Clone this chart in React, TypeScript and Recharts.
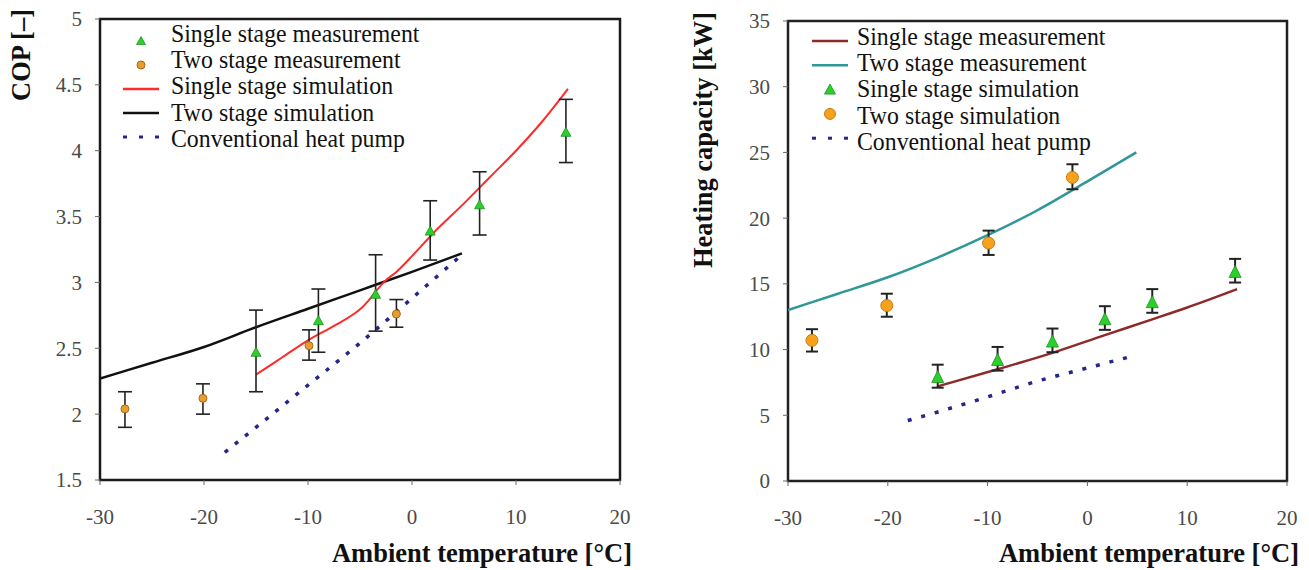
import { ComposedChart, ErrorBar, Line, ReferenceArea, Scatter, XAxis, YAxis } from "recharts";

const FONT = '"Liberation Serif", "Times New Roman", Times, serif';

// ambient temperatures of the measured points (both charts)
const singleTemps = [-15, -9, -3.5, 1.75, 6.5, 14.8];
const twoTemps = [-27.6, -20.1, -9.9, -1.5];

const tempTicks = [-30, -20, -10, 0, 10, 20];
const copTicks = [1.5, 2, 2.5, 3, 3.5, 4, 4.5, 5];
const capTicks = [0, 5, 10, 15, 20, 25, 30, 35];

// COP chart
const copSingleMeas = [2.47, 2.71, 2.91, 3.39, 3.59, 4.14];
const copSingleLow = [2.17, 2.47, 2.63, 3.17, 3.36, 3.91];
const copSingleHigh = [2.79, 2.95, 3.21, 3.62, 3.84, 4.39];
const copTwoMeas = [2.04, 2.12, 2.52, 2.76];
const copTwoLow = [1.9, 2.0, 2.41, 2.66];
const copTwoHigh = [2.17, 2.23, 2.64, 2.87];

const copSingleSimT = [-15, -12.5, -10, -7.5, -5.6, -4.8, -4.2, -3.5, -2.6, -1.5, 0, 2, 5, 7.5, 10, 12.5, 15];
const copSingleSim = [2.3, 2.43, 2.56, 2.67, 2.76, 2.81, 2.86, 2.93, 3.01, 3.08, 3.2, 3.37, 3.6, 3.8, 4.0, 4.22, 4.47];
const copTwoSimT = [-30, -25, -20, -15, -10, -5, 0, 4.8];
const copTwoSim = [2.27, 2.39, 2.51, 2.66, 2.8, 2.94, 3.08, 3.22];
const copConvT = [-18, -15, -10, -5, 0, 4.5];
const copConv = [1.71, 1.9, 2.22, 2.54, 2.88, 3.19];

// heating capacity chart
const capSingleSim = [7.9, 9.2, 10.6, 12.3, 13.6, 15.9];
const capSingleLow = [7.1, 8.4, 9.8, 11.5, 12.8, 15.1];
const capSingleHigh = [8.85, 10.2, 11.6, 13.3, 14.6, 16.9];
const capTwoSim = [10.7, 13.35, 18.1, 23.1];
const capTwoLow = [9.85, 12.5, 17.2, 22.2];
const capTwoHigh = [11.55, 14.25, 19.05, 24.1];

const capSingleMeasT = [-15, -9, -3.5, 1.75, 6.5, 10, 15];
const capSingleMeas = [7.2, 8.5, 9.75, 11.1, 12.3, 13.2, 14.6];
const capTwoMeasT = [-30, -25, -20, -15, -10, -5, 0, 4.9];
const capTwoMeas = [13.0, 14.25, 15.5, 17.0, 18.7, 20.6, 22.8, 25.0];
const capConvT = [-18, -15, -10, -5, 0, 4.5];
const capConv = [4.6, 5.25, 6.4, 7.6, 8.6, 9.5];

const GREEN = "#2BD12B";
const GREEN_EDGE = "#1E8E1E";
const ORANGE = "#E89D2C";
const ORANGE_EDGE = "#A8681A";
const RED = "#FF2B2B";
const BLACK = "#111";
const NAVY = "#25258A";
const DARKRED = "#8E2A2A";
const TEAL = "#2F9797";

const pts = (xs: number[], ys: number[]) => xs.map((x, i) => ({ x, y: ys[i] }));
const errPts = (xs: number[], ys: number[], lo: number[], hi: number[]) =>
  xs.map((x, i) => ({ x, y: ys[i], err: [ys[i] - lo[i], hi[i] - ys[i]] }));

type Kind = "tri" | "circle" | "line" | "dots";
interface LegendItem {
  label: string;
  kind: Kind;
  color: string;
  edge?: string;
}

const copLegend: LegendItem[] = [
  { label: "Single stage measurement", kind: "tri", color: GREEN, edge: GREEN_EDGE },
  { label: "Two stage measurement", kind: "circle", color: ORANGE, edge: ORANGE_EDGE },
  { label: "Single stage simulation", kind: "line", color: RED },
  { label: "Two stage simulation", kind: "line", color: BLACK },
  { label: "Conventional heat pump", kind: "dots", color: NAVY },
];

const capLegend: LegendItem[] = [
  { label: "Single stage measurement", kind: "line", color: DARKRED },
  { label: "Two stage measurement", kind: "line", color: TEAL },
  { label: "Single stage simulation", kind: "tri", color: GREEN, edge: GREEN_EDGE },
  { label: "Two stage simulation", kind: "circle", color: "#F7A21B", edge: "#C77A12" },
  { label: "Conventional heat pump", kind: "dots", color: NAVY },
];

function Tri({ cx, cy, w, h, fill, stroke }: { cx: number; cy: number; w: number; h: number; fill: string; stroke: string }) {
  const d = `M${cx},${cy - h * 0.55} L${cx + w / 2},${cy + h * 0.45} L${cx - w / 2},${cy + h * 0.45} Z`;
  return <path d={d} fill={fill} stroke={stroke} strokeWidth={0.8} />;
}

function Dot({ cx, cy, r, fill, stroke }: { cx: number; cy: number; r: number; fill: string; stroke: string }) {
  return <circle cx={cx} cy={cy} r={r} fill={fill} stroke={stroke} strokeWidth={1} />;
}

function ChartLegend({
  items,
  x0,
  x1,
  symY0,
  symStep,
  textX,
  textTop,
  triW,
  triH,
  dotR,
}: {
  items: LegendItem[];
  x0: number;
  x1: number;
  symY0: number;
  symStep: number;
  textX: number;
  textTop: number;
  triW: number;
  triH: number;
  dotR: number;
}) {
  const mid = (x0 + x1) / 2;
  return (
    <>
      <svg width={x1 + 4} height={200} style={{ position: "absolute", left: 0, top: 0, pointerEvents: "none" }}>
        {items.map((it, i) => {
          const y = symY0 + i * symStep;
          if (it.kind === "tri") return <Tri key={i} cx={mid} cy={y} w={triW} h={triH} fill={it.color} stroke={it.edge!} />;
          if (it.kind === "circle") return <Dot key={i} cx={mid} cy={y} r={dotR} fill={it.color} stroke={it.edge!} />;
          if (it.kind === "line") return <line key={i} x1={x0} x2={x1} y1={y} y2={y} stroke={it.color} strokeWidth={2.5} />;
          return (
            <g key={i}>
              {[x0 + 2, mid, x1 - 2].map((cx) => (
                <line key={cx} x1={cx - 2} x2={cx + 2} y1={y} y2={y} stroke={it.color} strokeWidth={3} />
              ))}
            </g>
          );
        })}
      </svg>
      <div
        style={{
          position: "absolute",
          left: textX,
          top: textTop,
          fontFamily: FONT,
          fontSize: 26,
          lineHeight: "26.2px",
          color: "#111",
          whiteSpace: "nowrap",
          transform: "scaleX(0.915)",
          transformOrigin: "left top",
        }}
      >
        {items.map((it) => (
          <div key={it.label}>{it.label}</div>
        ))}
      </div>
    </>
  );
}

const tickStyle = { fill: "#4a4a4a", fontSize: 21, fontFamily: FONT };

const titleStyle = {
  position: "absolute" as const,
  fontFamily: FONT,
  fontWeight: 700,
  fontSize: 26.5,
  lineHeight: "30px",
  color: "#111",
  whiteSpace: "nowrap" as const,
};

function CopChart() {
  return (
    <div style={{ position: "absolute", left: 0, top: 0, width: 660, height: 570 }}>
      <ComposedChart width={660} height={570} margin={{ top: 19, right: 40, bottom: 30, left: 40 }}>
        <XAxis
          type='number'
          dataKey='x'
          domain={[-30, 20]}
          ticks={tempTicks}
          allowDataOverflow
          axisLine={false}
          tickLine={{ stroke: "#666" }}
          tickSize={5}
          tickMargin={24}
          tick={tickStyle}
          height={60}
        />
        <YAxis
          type='number'
          domain={[1.5, 5]}
          ticks={copTicks}
          allowDataOverflow
          axisLine={false}
          tickLine={{ stroke: "#666" }}
          tickSize={5}
          tickMargin={13}
          tick={tickStyle}
          width={60}
        />
        <ReferenceArea x1={-30} x2={20} y1={1.5} y2={5} fill='none' fillOpacity={0} stroke='#1a1a1a' strokeWidth={2.5} ifOverflow='visible' />
        <Line data={pts(copTwoSimT, copTwoSim)} dataKey='y' type='monotone' stroke={BLACK} strokeWidth={2.5} dot={false} isAnimationActive={false} />
        <Line data={pts(copConvT, copConv)} dataKey='y' type='monotone' stroke={NAVY} strokeWidth={3.5} strokeDasharray='4 9' dot={false} isAnimationActive={false} />
        <Line data={pts(copSingleSimT, copSingleSim)} dataKey='y' type='monotone' stroke={RED} strokeWidth={2} dot={false} isAnimationActive={false} />
        <Scatter
          data={errPts(twoTemps, copTwoMeas, copTwoLow, copTwoHigh)}
          dataKey='y'
          isAnimationActive={false}
          shape={(p: any) => <Dot cx={p.cx} cy={p.cy} r={4} fill={ORANGE} stroke={ORANGE_EDGE} />}
        >
          <ErrorBar dataKey='err' direction='y' width={7} stroke='#222' strokeWidth={1.6} />
        </Scatter>
        <Scatter
          data={errPts(singleTemps, copSingleMeas, copSingleLow, copSingleHigh)}
          dataKey='y'
          isAnimationActive={false}
          shape={(p: any) => <Tri cx={p.cx} cy={p.cy} w={10} h={9} fill={GREEN} stroke={GREEN_EDGE} />}
        >
          <ErrorBar dataKey='err' direction='y' width={7} stroke='#222' strokeWidth={1.6} />
        </Scatter>
      </ComposedChart>
      <ChartLegend items={copLegend} x0={123} x1={159} symY0={41} symStep={24} textX={171} textTop={21} triW={9} triH={8} dotR={4} />
      <div style={{ ...titleStyle, left: 21, top: 55, transform: "translate(-50%,-50%) rotate(-90deg)" }}>COP [–]</div>
      <div style={{ ...titleStyle, right: 660 - 632, top: 538 }}>Ambient temperature [°C]</div>
    </div>
  );
}

function CapacityChart() {
  return (
    <div style={{ position: "absolute", left: 660, top: 0, width: 649, height: 570 }}>
      <ComposedChart width={649} height={570} margin={{ top: 21, right: 22, bottom: 29, left: 68 }}>
        <XAxis
          type='number'
          dataKey='x'
          domain={[-30, 20]}
          ticks={tempTicks}
          allowDataOverflow
          axisLine={false}
          tickLine={{ stroke: "#666" }}
          tickSize={5}
          tickMargin={24}
          tick={tickStyle}
          height={60}
        />
        <YAxis
          type='number'
          domain={[0, 35]}
          ticks={capTicks}
          allowDataOverflow
          axisLine={false}
          tickLine={{ stroke: "#666" }}
          tickSize={5}
          tickMargin={13}
          tick={tickStyle}
          width={60}
        />
        <ReferenceArea x1={-30} x2={20} y1={0} y2={35} fill='none' fillOpacity={0} stroke='#222' strokeWidth={2.5} ifOverflow='visible' />
        <Line data={pts(capTwoMeasT, capTwoMeas)} dataKey='y' type='monotone' stroke={TEAL} strokeWidth={2.5} dot={false} isAnimationActive={false} />
        <Line data={pts(capSingleMeasT, capSingleMeas)} dataKey='y' type='monotone' stroke={DARKRED} strokeWidth={2.5} dot={false} isAnimationActive={false} />
        <Line data={pts(capConvT, capConv)} dataKey='y' type='monotone' stroke={NAVY} strokeWidth={3.5} strokeDasharray='4 10' dot={false} isAnimationActive={false} />
        <Scatter
          data={errPts(twoTemps, capTwoSim, capTwoLow, capTwoHigh)}
          dataKey='y'
          isAnimationActive={false}
          shape={(p: any) => <Dot cx={p.cx} cy={p.cy} r={6} fill='#F7A21B' stroke='#C77A12' />}
        >
          <ErrorBar dataKey='err' direction='y' width={6} stroke='#222' strokeWidth={2} />
        </Scatter>
        <Scatter
          data={errPts(singleTemps, capSingleSim, capSingleLow, capSingleHigh)}
          dataKey='y'
          isAnimationActive={false}
          shape={(p: any) => <Tri cx={p.cx} cy={p.cy} w={12} h={12} fill={GREEN} stroke={GREEN_EDGE} />}
        >
          <ErrorBar dataKey='err' direction='y' width={6} stroke='#222' strokeWidth={2} />
        </Scatter>
      </ComposedChart>
      <ChartLegend items={capLegend} x0={152} x1={188} symY0={41} symStep={24.3} textX={197} textTop={24} triW={11} triH={10} dotR={5.5} />
      <div style={{ ...titleStyle, left: 43, top: 140, transform: "translate(-50%,-50%) rotate(-90deg)" }}>Heating capacity [kW]</div>
      <div style={{ ...titleStyle, right: 649 - 639, top: 538 }}>Ambient temperature [°C]</div>
    </div>
  );
}

export default function App() {
  return (
    <div style={{ position: "absolute", left: 0, top: 0, width: 1309, height: 570, background: "#fff", overflow: "hidden", fontFamily: FONT }}>
      <style>{`.recharts-cartesian-axis-tick-value, .recharts-text { font-family: ${FONT}; }`}</style>
      <CopChart />
      <CapacityChart />
    </div>
  );
}
